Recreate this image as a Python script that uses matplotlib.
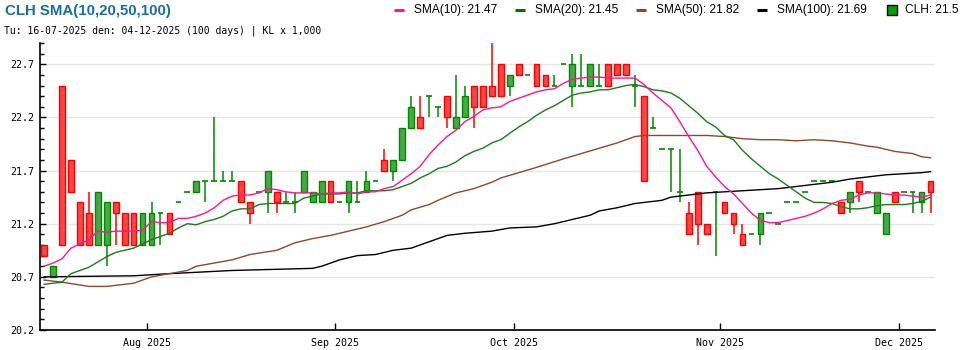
import numpy as np
import pandas as pd
import matplotlib
matplotlib.use("Agg")
import matplotlib.pyplot as plt
from matplotlib.lines import Line2D
from matplotlib.patches import Rectangle

# ---------------- data ----------------
dates = pd.bdate_range("2025-07-16", "2025-12-04")
dates = dates[~dates.isin(pd.to_datetime(["2025-09-01", "2025-09-02"]))]

opens = [21.0, 20.7, 22.5, 21.8, 21.4, 21.3, 21.0, 21.0, 21.4, 21.3,
         21.3, 21.0, 21.0, 21.3, 21.3, 21.4, 21.5, 21.5, 21.6, 21.6,
         21.6, 21.6, 21.6, 21.4, 21.5, 21.5, 21.5, 21.4, 21.4, 21.5,
         21.4, 21.4, 21.6, 21.4, 21.4, 21.4, 21.5, 21.6, 21.8, 21.7,
         21.8, 22.1, 22.2, 22.4, 22.3, 22.4, 22.1, 22.2, 22.5, 22.5,
         22.5, 22.7, 22.5, 22.7, 22.6, 22.7, 22.6, 22.5, 22.7, 22.5,
         22.5, 22.5, 22.5, 22.7, 22.7, 22.7, 22.5, 22.4, 22.1, 21.9,
         21.9, 21.5, 21.3, 21.5, 21.2, 21.5, 21.4, 21.3, 21.1, 21.1,
         21.1, 21.3, 21.2, 21.4, 21.4, 21.5, 21.6, 21.6, 21.6, 21.4,
         21.4, 21.6, 21.5, 21.3, 21.1, 21.5, 21.5, 21.5, 21.4, 21.6]
highs = [21.0, 20.8, 22.5, 21.8, 21.4, 21.5, 21.5, 21.4, 21.4, 21.3,
         21.3, 21.3, 21.4, 21.3, 21.3, 21.4, 21.5, 21.6, 21.6, 22.2,
         21.7, 21.7, 21.6, 21.4, 21.5, 21.7, 21.5, 21.5, 21.5, 21.7,
         21.5, 21.6, 21.6, 21.4, 21.6, 21.6, 21.7, 21.6, 21.9, 21.8,
         22.1, 22.4, 22.4, 22.4, 22.3, 22.4, 22.6, 22.5, 22.5, 22.5,
         22.9, 22.7, 22.6, 22.7, 22.6, 22.7, 22.6, 22.6, 22.7, 22.8,
         22.8, 22.7, 22.7, 22.7, 22.7, 22.7, 22.6, 22.4, 22.2, 21.9,
         21.9, 21.9, 21.4, 21.5, 21.2, 21.5, 21.4, 21.3, 21.2, 21.1,
         21.3, 21.3, 21.2, 21.4, 21.4, 21.5, 21.6, 21.6, 21.6, 21.4,
         21.5, 21.6, 21.5, 21.5, 21.3, 21.5, 21.5, 21.5, 21.5, 21.6]
lows = [20.9, 20.7, 21.0, 21.5, 21.0, 21.0, 21.0, 20.8, 21.0, 21.0,
        21.0, 21.0, 21.0, 21.0, 21.1, 21.4, 21.5, 21.5, 21.4, 21.6,
        21.6, 21.6, 21.4, 21.2, 21.5, 21.3, 21.3, 21.4, 21.3, 21.5,
        21.4, 21.4, 21.4, 21.4, 21.3, 21.4, 21.5, 21.6, 21.7, 21.6,
        21.8, 22.1, 22.1, 22.2, 22.2, 22.1, 22.1, 22.2, 22.1, 22.3,
        22.4, 22.4, 22.4, 22.6, 22.6, 22.5, 22.5, 22.5, 22.7, 22.3,
        22.5, 22.5, 22.5, 22.5, 22.6, 22.6, 22.3, 21.6, 22.1, 21.9,
        21.5, 21.4, 21.1, 21.0, 21.1, 20.9, 21.3, 21.1, 21.0, 21.1,
        21.0, 21.3, 21.2, 21.4, 21.4, 21.5, 21.6, 21.6, 21.6, 21.3,
        21.3, 21.4, 21.5, 21.3, 21.1, 21.4, 21.5, 21.3, 21.3, 21.3]
closes = [20.9, 20.8, 21.0, 21.5, 21.0, 21.0, 21.5, 21.4, 21.3, 21.0,
          21.0, 21.3, 21.3, 21.3, 21.1, 21.4, 21.5, 21.6, 21.6, 21.6,
          21.6, 21.6, 21.4, 21.3, 21.5, 21.7, 21.4, 21.4, 21.4, 21.7,
          21.5, 21.6, 21.4, 21.4, 21.6, 21.4, 21.6, 21.6, 21.7, 21.8,
          22.1, 22.3, 22.1, 22.4, 22.3, 22.2, 22.2, 22.4, 22.3, 22.3,
          22.4, 22.4, 22.6, 22.6, 22.6, 22.5, 22.5, 22.5, 22.7, 22.7,
          22.5, 22.7, 22.5, 22.5, 22.6, 22.6, 22.5, 21.6, 22.1, 21.9,
          21.9, 21.5, 21.1, 21.2, 21.1, 21.5, 21.3, 21.2, 21.0, 21.1,
          21.3, 21.3, 21.2, 21.4, 21.4, 21.5, 21.6, 21.6, 21.6, 21.3,
          21.5, 21.5, 21.5, 21.5, 21.3, 21.4, 21.5, 21.5, 21.5, 21.5]

sma10 = [20.80, 20.83, 20.87, 20.97, 21.01, 21.05, 21.13, 21.12, 21.13, 21.13,
         21.13, 21.14, 21.22, 21.21, 21.21, 21.25, 21.25, 21.27, 21.30, 21.35,
         21.42, 21.46, 21.47, 21.47, 21.49, 21.53, 21.52, 21.50, 21.49, 21.49,
         21.49, 21.48, 21.49, 21.49, 21.50, 21.48, 21.50, 21.50, 21.53, 21.55,
         21.61, 21.67, 21.74, 21.85, 21.94, 22.02, 22.08, 22.16, 22.21, 22.27,
         22.29, 22.30, 22.35, 22.38, 22.41, 22.44, 22.46, 22.47, 22.52, 22.56,
         22.57, 22.58, 22.58, 22.57, 22.57, 22.57, 22.57, 22.51, 22.43, 22.36,
         22.29, 22.16, 22.02, 21.89, 21.74, 21.64, 21.55, 21.48, 21.39, 21.30,
         21.23, 21.21, 21.21, 21.23, 21.25, 21.27, 21.30, 21.34, 21.39, 21.42,
         21.43, 21.47, 21.49, 21.49, 21.48, 21.47, 21.47, 21.46, 21.45, 21.47]
sma20 = [20.63, 20.64, 20.65, 20.73, 20.76, 20.79, 20.84, 20.89, 20.93, 20.95,
         20.97, 21.01, 21.05, 21.08, 21.11, 21.16, 21.20, 21.19, 21.22, 21.24,
         21.27, 21.32, 21.34, 21.34, 21.38, 21.39, 21.39, 21.39, 21.39, 21.44,
         21.46, 21.48, 21.48, 21.48, 21.49, 21.49, 21.51, 21.51, 21.51, 21.52,
         21.55, 21.58, 21.63, 21.67, 21.72, 21.74, 21.78, 21.84, 21.88, 21.91,
         21.96, 21.99, 22.05, 22.11, 22.16, 22.22, 22.27, 22.31, 22.36, 22.41,
         22.43, 22.44, 22.46, 22.46, 22.48, 22.50, 22.51, 22.49, 22.46, 22.45,
         22.43, 22.38, 22.31, 22.24, 22.16, 22.11, 22.03, 21.99, 21.89, 21.81,
         21.74, 21.67, 21.62, 21.56, 21.50, 21.44, 21.40, 21.40, 21.39, 21.36,
         21.34, 21.34, 21.35, 21.37, 21.38, 21.38, 21.38, 21.39, 21.41, 21.45]
sma50_idx = [0, 2, 5, 7, 10, 12, 14, 16, 17, 19, 21, 23, 26, 28, 30, 32, 34, 36, 38, 40,
             41, 43, 44, 46, 48, 50, 51, 53, 55, 58, 60, 62, 64, 66, 67, 70, 72, 74, 76,
             78, 80, 82, 84, 86, 88, 90, 92, 93, 95, 97, 98, 99]
sma50_val = [20.67, 20.65, 20.61, 20.61, 20.64, 20.70, 20.73, 20.76, 20.80, 20.83,
             20.86, 20.91, 20.95, 21.02, 21.06, 21.09, 21.13, 21.17, 21.22, 21.28,
             21.33, 21.38, 21.42, 21.49, 21.53, 21.59, 21.63, 21.68, 21.73, 21.81,
             21.86, 21.91, 21.96, 22.02, 22.03, 22.03, 22.03, 22.03, 22.02, 22.00,
             21.99, 21.99, 21.98, 21.99, 21.98, 21.96, 21.93, 21.92, 21.88, 21.86,
             21.83, 21.82]
sma100_idx = [0, 10, 14, 21, 30, 31, 33, 35, 37, 39, 41, 43, 45, 47, 50, 52, 55, 57, 59,
              61, 62, 64, 66, 67, 69, 70, 71, 74, 76, 78, 80, 82, 84, 86, 88, 90, 92, 94,
              96, 98, 99]
sma100_val = [20.70, 20.71, 20.73, 20.76, 20.78, 20.80, 20.86, 20.90, 20.91, 20.95,
              20.97, 21.03, 21.09, 21.11, 21.13, 21.16, 21.17, 21.20, 21.24, 21.28,
              21.32, 21.35, 21.39, 21.40, 21.42, 21.45, 21.46, 21.49, 21.50, 21.51,
              21.52, 21.53, 21.55, 21.57, 21.59, 21.62, 21.64, 21.66, 21.67, 21.68,
              21.69]

title = "CLH SMA(10,20,50,100)"
subtitle = "Tu: 16-07-2025 den: 04-12-2025 (100 days) | KL x 1,000"
ytick_vals = [20.2, 20.7, 21.2, 21.7, 22.2, 22.7]

# ---------------- styling ----------------
W, H = 970, 350
fig = plt.figure(figsize=(W / 100, H / 100), dpi=100)
ax = fig.add_axes([39.6 / W, 1 - 330 / H, (935 - 39.6) / W, (330 - 43) / H])

C_PINK = "#ff1493"
C_GREEN = "#1e7a1e"
C_BROWN = "#8b4a2b"
C_BLACK = "#000000"
UP_FILL, UP_EDGE = "#44aa44", "#008800"
DN_FILL, DN_EDGE = "#ff4444", "#ff0000"

x = np.arange(len(closes))
bw = 0.64

for i in x:
    o, h, l, c = opens[i], highs[i], lows[i], closes[i]
    up = c >= o
    ec = UP_EDGE if up else DN_EDGE
    fc = UP_FILL if up else DN_FILL
    if h > l:
        ax.plot([i, i], [l, h], color=ec, lw=1.1, zorder=3, solid_capstyle="butt")
    if abs(c - o) > 1e-9:
        ax.add_patch(Rectangle((i - bw / 2, min(o, c)), bw, abs(c - o),
                               facecolor=fc, edgecolor=ec, lw=1.0, zorder=4))
    else:
        ax.plot([i - bw / 2, i + bw / 2], [o, o], color=ec, lw=1.2, zorder=4,
                solid_capstyle="butt")

ax.plot(sma100_idx, sma100_val, color=C_BLACK, lw=1.0, zorder=5)
ax.plot(sma50_idx, sma50_val, color=C_BROWN, lw=1.0, zorder=5)
ax.plot(x, sma20, color=C_GREEN, lw=1.0, zorder=5)
ax.plot(x, sma10, color=C_PINK, lw=1.0, zorder=5)

ax.set_xlim(-0.5, len(closes) - 0.5)
ax.set_ylim(20.2, 22.9)

ax.set_yticks(ytick_vals)
ax.set_yticklabels([f"{v:.1f}" for v in ytick_vals], family="DejaVu Sans Mono", fontsize=7.2)
ax.set_yticks(np.arange(20.2, 22.95, 0.1), minor=True)
ax.tick_params(axis="y", which="major", direction="in", length=4, width=1, pad=4)
ax.tick_params(axis="y", which="minor", direction="in", length=3, width=1)
ax.grid(axis="y", which="major", color="#e6e6e6", lw=1.0, zorder=0)
ax.set_axisbelow(True)

month_first = []
labels = []
months = dates.to_period("M")
for k in range(1, len(dates)):
    if months[k] != months[k - 1]:
        month_first.append(k - 0.5)
        labels.append(dates[k].strftime("%b %Y"))
ax.set_xticks(month_first)
ax.set_xticklabels(labels, family="DejaVu Sans Mono", fontsize=7.2)
ax.tick_params(axis="x", direction="in", length=5, width=1, pad=6)

for s in ["top", "right"]:
    ax.spines[s].set_visible(False)
for s in ["left", "bottom"]:
    ax.spines[s].set_linewidth(1.2)

# titles
fig.text(5 / W, 1 - 10.5 / H, title, fontsize=10.8, fontweight="bold",
         family="Liberation Sans", color="#1a6ea8", va="center", ha="left")
fig.text(4 / W, 1 - 31 / H, subtitle, fontsize=7.0, family="DejaVu Sans Mono",
         color="#000000", va="center", ha="left")

# legend
ly = 1 - 10 / H
items = [
    (399, 414, C_PINK, f"SMA(10): {sma10[-1]:.2f}"),
    (520, 535, "#007700", f"SMA(20): {sma20[-1]:.2f}"),
    (641, 656, C_BROWN, f"SMA(50): {sma50_val[-1]:.2f}"),
    (762, 777, C_BLACK, f"SMA(100): {sma100_val[-1]:.2f}"),
]
for cx, tx, col, txt in items:
    fig.add_artist(Line2D([(cx - 5) / W, (cx + 5) / W], [ly, ly], transform=fig.transFigure,
                          color=col, lw=2.2, solid_capstyle="butt"))
    fig.text(tx / W, ly, txt, fontsize=8.6, family="Liberation Sans", va="center", ha="left")
fig.add_artist(Rectangle((887 / W, 1 - 15 / H), 10 / W, 10 / H, transform=fig.transFigure,
                         facecolor="#00a000", edgecolor="black", lw=1.0))
fig.text(905 / W, ly, f"CLH: {closes[-1]:.1f}", fontsize=8.6, family="Liberation Sans",
         va="center", ha="left")

fig.savefig("out.png", dpi=100)
